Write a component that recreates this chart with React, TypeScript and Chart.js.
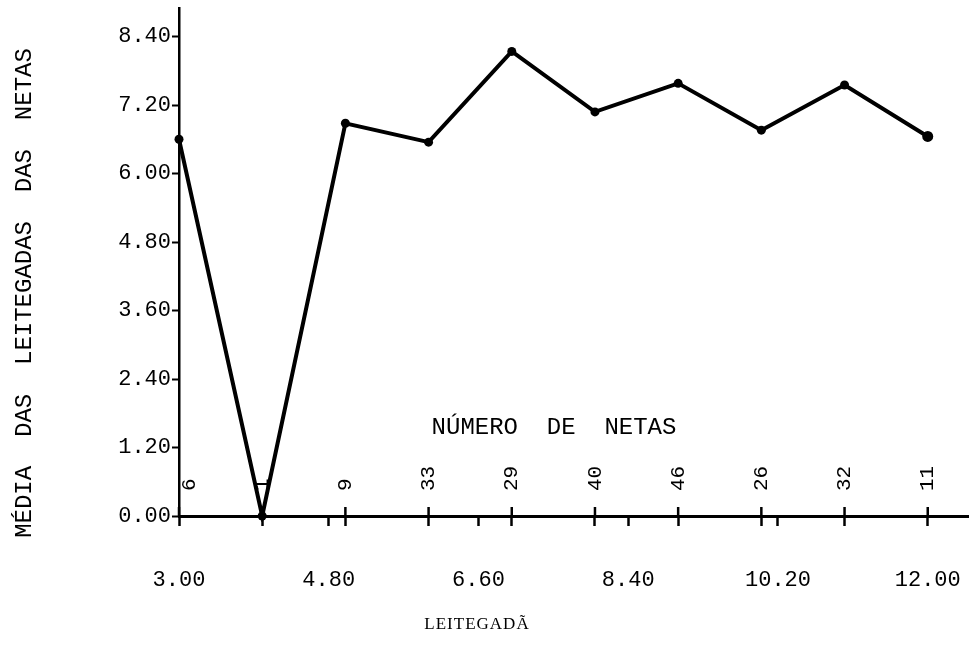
import React, { useEffect, useRef } from 'react';
import { Chart, registerables } from 'chart.js';

Chart.register(...registerables);

// Leitegada (x) and média das leitegadas das netas (y)
const leitegada = [3, 4, 5, 6, 7, 8, 9, 10, 11, 12];
const mediaNetas = [6.6, 0.0, 6.88, 6.55, 8.14, 7.08, 7.58, 6.76, 7.55, 6.65];
// Número de netas at each point
const numeroNetas = [6, 1, 9, 33, 29, 40, 46, 26, 32, 11];
// Axis tick labels
const xTickValues = [3, 4.8, 6.6, 8.4, 10.2, 12];
const yTickValues = [0, 1.2, 2.4, 3.6, 4.8, 6.0, 7.2, 8.4];

const yTitle = 'MÉDIA  DAS  LEITEGADAS  DAS  NETAS';
const xTitle = 'LEITEGADÃ';
const countTitle = 'NÚMERO  DE  NETAS';

const MONO = '"Liberation Mono", "DejaVu Sans Mono", monospace';

const annotate = {
  id: 'annotate',
  beforeDatasetsDraw(chart: any) {
    const { ctx, scales, chartArea } = chart;
    const x = scales.x;
    const y = scales.y;
    const y0 = y.getPixelForValue(0);
    ctx.save();
    ctx.strokeStyle = '#000';
    ctx.lineWidth = 2.5;
    leitegada.forEach((v) => {
      const px = x.getPixelForValue(v);
      ctx.beginPath();
      ctx.moveTo(px, y0);
      ctx.lineTo(px, y0 - 9);
      ctx.stroke();
    });
    ctx.fillStyle = '#000';
    ctx.font = `21px ${MONO}`;
    ctx.textAlign = 'left';
    ctx.textBaseline = 'middle';
    leitegada.forEach((v, i) => {
      const px = Math.max(x.getPixelForValue(v), chartArea.left + 10);
      ctx.save();
      ctx.translate(px, y0 - 25);
      ctx.rotate(-Math.PI / 2);
      ctx.fillText(String(numeroNetas[i]), 0, 0);
      ctx.restore();
    });
    ctx.restore();
  },
  afterDraw(chart: any) {
    const { ctx } = chart;
    ctx.save();
    ctx.fillStyle = '#000';
    ctx.textBaseline = 'middle';
    ctx.textAlign = 'center';
    // count title
    ctx.font = `24px ${MONO}`;
    ctx.fillText(countTitle, 554, 428);
    // y title
    ctx.save();
    ctx.translate(25, 293);
    ctx.rotate(-Math.PI / 2);
    ctx.fillText(yTitle, 0, 0);
    ctx.restore();
    // x title
    ctx.font = '17px "Liberation Serif", serif';
    try { (ctx as any).letterSpacing = '1px'; } catch (e) {}
    ctx.fillText(xTitle, 477, 625);
    ctx.restore();
  },
};

export default function App() {
  const ref = useRef<HTMLCanvasElement | null>(null);
  useEffect(() => {
    if (!ref.current) return;
    const chart = new Chart(ref.current, {
      type: 'line',
      data: {
        datasets: [
          {
            data: leitegada.map((v, i) => ({ x: v, y: mediaNetas[i] })),
            borderColor: '#000',
            backgroundColor: '#000',
            borderWidth: 4,
            pointRadius: leitegada.map((_, i) => (i === leitegada.length - 1 ? 5.5 : 4.5)),
            pointBackgroundColor: '#000',
            pointBorderWidth: 0,
            tension: 0,
            clip: 6,
          },
        ],
      },
      options: {
        responsive: false,
        animation: false,
        layout: { padding: { top: 8, right: 0, left: 0, bottom: 0 } },
        plugins: { legend: { display: false }, tooltip: { enabled: false } },
        scales: {
          x: {
            type: 'linear',
            min: 3,
            max: 12.49,
            border: { color: '#000', width: 3 },
            grid: { drawOnChartArea: false, color: '#000', tickLength: 10, tickWidth: 2.5 },
            afterBuildTicks: (s: any) => {
              const vals = Array.from(new Set([...leitegada, ...xTickValues])).sort((a, b) => a - b);
              s.ticks = vals.map((v) => ({ value: v }));
            },
            ticks: {
              autoSkip: false,
              maxRotation: 0,
              minRotation: 0,
              padding: 41,
              color: '#000',
              font: { family: MONO, size: 22 },
              callback: (v: any) => (xTickValues.includes(Number(v)) ? Number(v).toFixed(2) : ''),
            },
            afterFit: (s: any) => {
              s.height = 141;
              s.paddingLeft = 0;
              s.paddingRight = 0;
            },
          },
          y: {
            type: 'linear',
            min: 0,
            max: 8.9,
            border: { color: '#000', width: 2.5 },
            grid: { drawOnChartArea: false, color: '#000', tickLength: 7, tickWidth: 2 },
            afterBuildTicks: (s: any) => {
              s.ticks = yTickValues.map((v) => ({ value: v }));
            },
            ticks: {
              padding: 1,
              color: '#000',
              font: { family: MONO, size: 22 },
              callback: (v: any) => Number(v).toFixed(2),
            },
            afterFit: (s: any) => {
              s.width = 179;
              s.paddingTop = 0;
              s.paddingBottom = 0;
            },
          },
        },
      },
      plugins: [annotate],
    });
    return () => chart.destroy();
  }, []);
  return (
    <div style={{ position: 'absolute', left: 0, top: 0, width: 974, height: 657, background: '#fff' }}>
      <canvas ref={ref} width={974} height={657} style={{ display: 'block' }} />
    </div>
  );
}
